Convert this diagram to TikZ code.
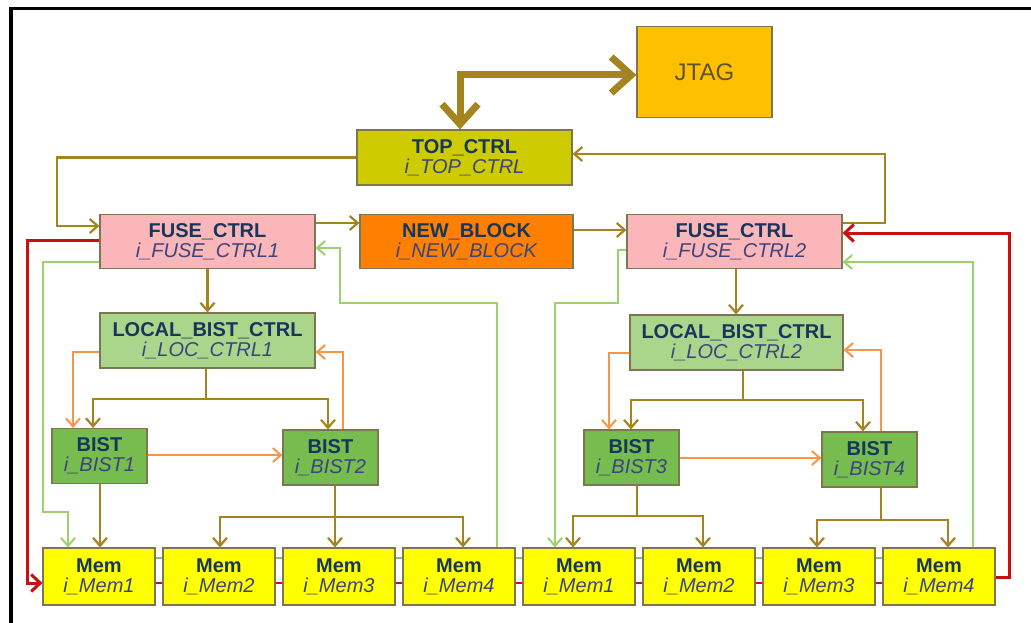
\documentclass[tikz,border=0pt]{standalone}
\usepackage{fontspec}
\setmainfont{Liberation Sans}
\usetikzlibrary{arrows.meta}

\definecolor{olivewire}{RGB}{163,132,30}
\definecolor{orangewire}{RGB}{247,150,70}
\definecolor{greenwire}{RGB}{155,210,110}
\definecolor{redwire}{RGB}{200,16,16}
\definecolor{boxline}{RGB}{125,118,80}
\definecolor{labelc}{RGB}{23,54,93}
\definecolor{instc}{RGB}{60,68,125}
\definecolor{jtagfill}{RGB}{255,192,0}
\definecolor{jtagtext}{RGB}{95,82,50}
\definecolor{topfill}{RGB}{206,204,0}
\definecolor{fusefill}{RGB}{251,182,186}
\definecolor{newfill}{RGB}{255,128,0}
\definecolor{locfill}{RGB}{170,214,140}
\definecolor{bistfill}{RGB}{118,188,78}
\definecolor{memfill}{RGB}{255,255,0}

\newcommand\blocktext[2]{\textbf{#1}\\\textcolor{instc}{\itshape #2}}

\begin{document}
\begin{tikzpicture}[x=1pt,y=-1pt,
  blk/.style={draw=boxline, line width=1.2pt, inner sep=0pt, align=center,
    font=\fontsize{20}{20}\selectfont, text=labelc},
  wide/.style={blk, minimum width=215pt, minimum height=54pt},
  bistbox/.style={blk, fill=bistfill, minimum width=95pt, minimum height=55pt},
  membox/.style={blk, fill=memfill, minimum width=112pt, minimum height=57pt},
  tipsmall/.style={-{Straight Barb[length=8pt,width=14pt]}},
  wireol/.style={draw=olivewire, line width=2.2pt, tipsmall},
  wireor/.style={draw=orangewire, line width=2pt, tipsmall},
  wiregn/.style={draw=greenwire, line width=2pt, tipsmall},
  wirered/.style={draw=redwire, line width=3pt, -{Straight Barb[length=9pt,width=17pt]}},
  bigwire/.style={draw=olivewire, line width=7pt,
    {Straight Barb[length=20pt,width=36pt]}-{Straight Barb[length=20pt,width=36pt]}}
]
\useasboundingbox[fill=white] (0,0) rectangle (1031,623);

% outer frame (top and left edges)
\draw[line width=3.2pt] (11,623) -- (11,8.5) -- (1031,8.5);

% blocks
\node[blk, fill=jtagfill, minimum width=135pt, minimum height=91pt,
      font=\fontsize{24}{26}\selectfont, text=jtagtext] (jtag) at (704.5,72) {JTAG};
\node[wide, fill=topfill, minimum height=55pt] (top) at (464.5,157.5) {\blocktext{TOP\_CTRL}{i\_TOP\_CTRL}};
\node[wide, fill=fusefill] (fuse1) at (207.5,241.5) {\blocktext{FUSE\_CTRL}{i\_FUSE\_CTRL1}};
\node[wide, fill=newfill, minimum width=213pt] (newb) at (466.5,241.5) {\blocktext{NEW\_BLOCK}{i\_NEW\_BLOCK}};
\node[wide, fill=fusefill] (fuse2) at (734.5,241.5) {\blocktext{FUSE\_CTRL}{i\_FUSE\_CTRL2}};
\node[wide, fill=locfill, minimum height=55pt] (loc1) at (207.5,340.5) {\blocktext{LOCAL\_BIST\_CTRL}{i\_LOC\_CTRL1}};
\node[wide, fill=locfill, minimum width=213pt, minimum height=55pt] (loc2) at (736.5,342.5) {\blocktext{LOCAL\_BIST\_CTRL}{i\_LOC\_CTRL2}};
\node[bistbox] (bist1) at (99.5,456) {\blocktext{BIST}{i\_BIST1}};
\node[bistbox] (bist2) at (330.5,457.5) {\blocktext{BIST}{i\_BIST2}};
\node[bistbox] (bist3) at (631.5,457.5) {\blocktext{BIST}{i\_BIST3}};
\node[bistbox] (bist4) at (869.5,459.5) {\blocktext{BIST}{i\_BIST4}};
\foreach \k/\n in {0/1,1/2,2/3,3/4} {
  \node[membox] (m\the\numexpr\k+1\relax) at ({99+120*\k},576.5) {\blocktext{Mem}{i\_Mem\n}};
}
\foreach \k/\n in {4/1,5/2,6/3,7/4} {
  \node[membox] (m\the\numexpr\k+1\relax) at ({99+120*\k},576.5) {\blocktext{Mem}{i\_Mem\n}};
}

% memory chain links
\foreach \a/\b in {1/2,2/3,3/4,4/5,5/6,6/7,7/8} {
  \draw[redwire, line width=2.2pt] (m\a.east |- 0,583) -- (m\b.west |- 0,583);
  \draw[greenwire!70!gray, line width=1.2pt] (m\a.east |- 0,558) -- (m\b.west |- 0,558);
}

% JTAG link
\draw[bigwire] (top.north -| 460,0) |- (jtag.west |- 0,75);

% top level control
\draw[wireol] (top.west) -| (57,226) -- (fuse1.west |- 0,226);
\draw[wireol] (fuse2.east |- 0,223) -| (885,154) -- (top.east |- 0,154);
\draw[wireol] (fuse1.east |- 0,223) -- (newb.west |- 0,223);
\draw[wireol] (newb.east |- 0,230) -- (fuse2.west |- 0,230);
\draw[wireol] (fuse1.south) -- (loc1.north -| fuse1.south);
\draw[wireol] (fuse2.south -| 736,0) -- (loc2.north -| 736,0);

% repair chain
\draw[wirered] (fuse1.west |- 0,240) -| (27,583) -- (m1.west |- 0,583);
\draw[wirered] (m8.east |- 0,577) -| (1009,233) -- (fuse2.east |- 0,233);

% status feedback
\draw[wiregn] (fuse1.west |- 0,262) -| (43,512) -| (m1.north -| 68,0);
\draw[wiregn] (m4.north -| 497,0) |- (340,303) |- (fuse1.east |- 0,248);
\draw[wiregn] (fuse2.west |- 0,250) -| (618,303) -| (m5.north -| 555,0);
\draw[wiregn] (m8.north -| 973,0) |- (fuse2.east |- 0,262);

% left BIST group
\coordinate (j1) at (206,399);
\draw[wireol] (loc1.south -| j1) -- (j1) -| (bist1.north -| 93,0);
\draw[wireol] (j1) -| (bist2.north -| 328,0);
\draw[wireor] (loc1.west |- 0,352) -| (bist1.north -| 73,0);
\draw[wireor] (bist2.north -| 343,0) |- (loc1.east |- 0,352);
\draw[wireor] (bist1.east |- 0,455) -- (bist2.west |- 0,455);
\draw[wireol] (bist1.south -| 100,0) -- (m1.north -| 100,0);
\coordinate (j2) at (335,517);
\draw[wireol] (bist2.south -| j2) -- (m3.north -| j2);
\draw[wireol] (j2) -| (m2.north -| 220,0);
\draw[wireol] (j2) -| (m4.north -| 463,0);

% right BIST group
\coordinate (j3) at (743,400);
\draw[wireol] (loc2.south -| j3) -- (j3) -| (bist3.north -| 631,0);
\draw[wireol] (j3) -| (bist4.north -| 863,0);
\draw[wireor] (loc2.west |- 0,353) -| (bist3.north -| 609,0);
\draw[wireor] (bist4.north -| 881,0) |- (loc2.east |- 0,350);
\draw[wireor] (bist3.east |- 0,458) -- (bist4.west |- 0,458);
\coordinate (j4) at (637,516);
\draw[wireol, -] (bist3.south -| j4) -- (j4);
\draw[wireol] (j4) -| (m5.north -| 573,0);
\draw[wireol] (j4) -| (m6.north -| 703,0);
\coordinate (j5) at (881,520);
\draw[wireol, -] (bist4.south -| j5) -- (j5);
\draw[wireol] (j5) -| (m7.north -| 817,0);
\draw[wireol] (j5) -| (m8.north -| 948,0);
\end{tikzpicture}
\end{document}
